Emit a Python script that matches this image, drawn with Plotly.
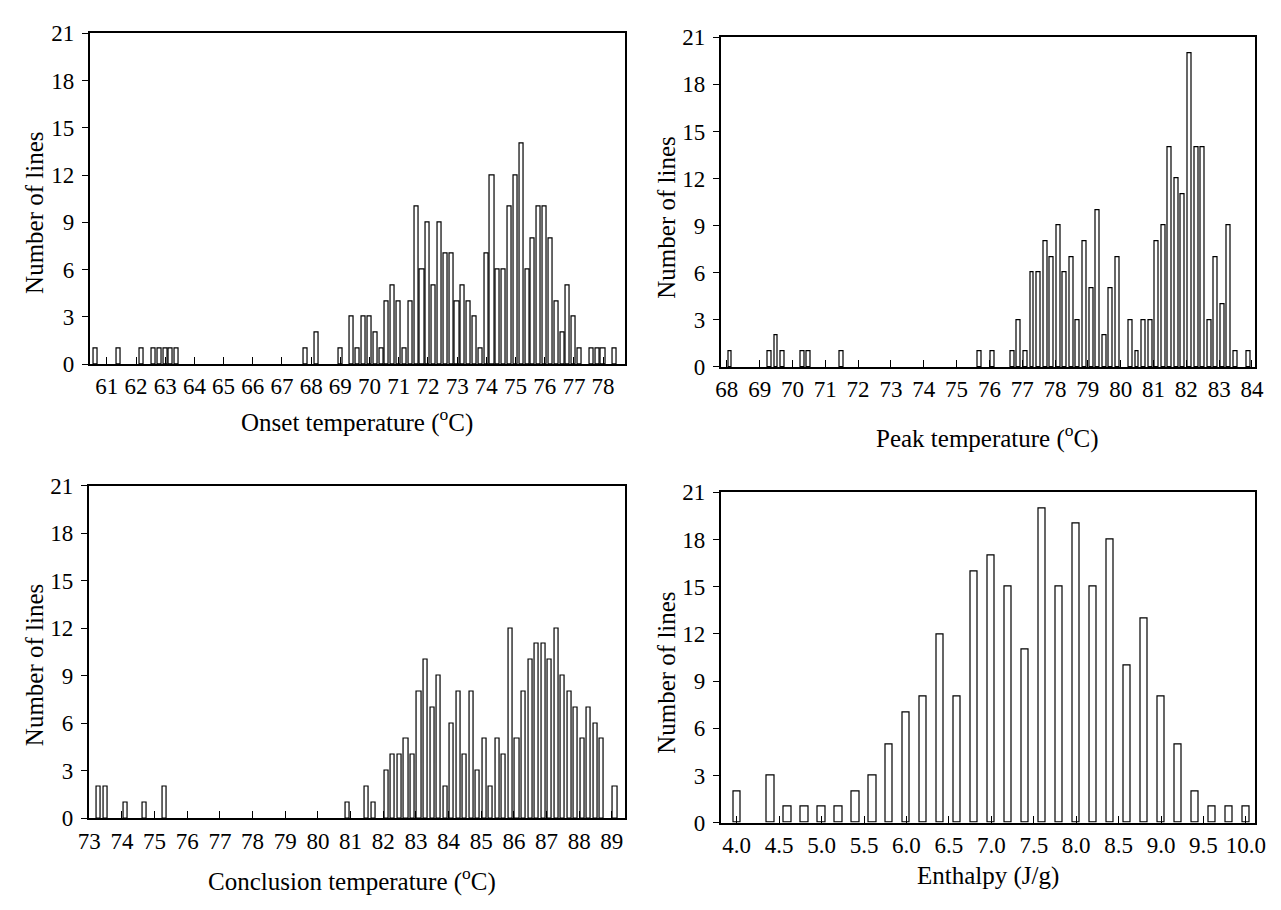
import plotly.graph_objects as go

# ---------------- data ----------------
onset_x = [60.6, 61.4, 62.2, 62.6, 62.8, 63.0, 63.2, 63.4, 67.8, 68.2, 69.0,
           69.4, 69.6, 69.8, 70.0, 70.2, 70.4, 70.6, 70.8, 71.0, 71.2, 71.4,
           71.6, 71.8, 72.0, 72.2, 72.4, 72.6, 72.8, 73.0, 73.2, 73.4, 73.6,
           73.8, 74.0, 74.2, 74.4, 74.6, 74.8, 75.0, 75.2, 75.4, 75.6, 75.8,
           76.0, 76.2, 76.4, 76.6, 76.8, 77.0, 77.2, 77.6, 77.8, 78.0, 78.4]
onset_n = [1, 1, 1, 1, 1, 1, 1, 1, 1, 2, 1,
           3, 1, 3, 3, 2, 1, 4, 5, 4, 1, 4,
           10, 6, 9, 5, 9, 7, 7, 4, 5, 4, 3,
           1, 7, 12, 6, 6, 10, 12, 14, 6, 8, 10,
           10, 8, 4, 2, 5, 3, 1, 1, 1, 1, 1]

peak_x = [68.1, 69.3, 69.5, 69.7, 70.3, 70.5, 71.5, 75.7, 76.1, 76.7,
          76.9, 77.1, 77.3, 77.5, 77.7, 77.9, 78.1, 78.3, 78.5, 78.7,
          78.9, 79.1, 79.3, 79.5, 79.7, 79.9, 80.3, 80.5, 80.7, 80.9,
          81.1, 81.3, 81.5, 81.7, 81.9, 82.1, 82.3, 82.5, 82.7, 82.9,
          83.1, 83.3, 83.5, 83.9]
peak_n = [1, 1, 2, 1, 1, 1, 1, 1, 1, 1,
          3, 1, 6, 6, 8, 7, 9, 6, 7, 3,
          8, 5, 10, 2, 5, 7, 3, 1, 3, 3,
          8, 9, 14, 12, 11, 20, 14, 14, 3, 7,
          4, 9, 1, 1]

conc_x = [73.3, 73.5, 74.1, 74.7, 75.3, 80.9, 81.5, 81.7,
          82.1, 82.3, 82.5, 82.7, 82.9, 83.1, 83.3, 83.5, 83.7, 83.9,
          84.1, 84.3, 84.5, 84.7, 84.9, 85.1, 85.3, 85.5, 85.7, 85.9,
          86.1, 86.3, 86.5, 86.7, 86.9, 87.1, 87.3, 87.5, 87.7, 87.9,
          88.1, 88.3, 88.5, 88.7, 89.1]
conc_n = [2, 2, 1, 1, 2, 1, 2, 1,
          3, 4, 4, 5, 4, 8, 10, 7, 9, 2,
          6, 8, 4, 8, 3, 5, 2, 5, 4, 12,
          5, 8, 10, 11, 11, 10, 12, 9, 8, 7,
          5, 7, 6, 5, 2]

enth_x = [4.0, 4.4, 4.6, 4.8, 5.0, 5.2, 5.4, 5.6, 5.8, 6.0,
          6.2, 6.4, 6.6, 6.8, 7.0, 7.2, 7.4, 7.6, 7.8, 8.0,
          8.2, 8.4, 8.6, 8.8, 9.0, 9.2, 9.4, 9.6, 9.8, 10.0]
enth_n = [2, 3, 1, 1, 1, 1, 2, 3, 5, 7,
          8, 12, 8, 16, 17, 15, 11, 20, 15, 19,
          15, 18, 10, 13, 8, 5, 2, 1, 1, 1]

onset_ticks = list(range(61, 79))
peak_ticks = list(range(68, 85))
conc_ticks = list(range(73, 90))
enth_ticks = [4.0, 4.5, 5.0, 5.5, 6.0, 6.5, 7.0, 7.5, 8.0, 8.5, 9.0, 9.5, 10.0]
y_ticks = [0, 3, 6, 9, 12, 15, 18, 21]

x_titles = ["Onset temperature (<sup>o</sup>C)", "Peak temperature (<sup>o</sup>C)",
            "Conclusion temperature (<sup>o</sup>C)", "Enthalpy (J/g)"]
y_title = "Number of lines"

# ---------------- layout helpers ----------------
W, H = 1281, 910
FONT = "Liberation Serif"
TICK_SIZE = 23
TITLE_SIZE = 25


def fx(px):
    return px / W


def fy(py):
    return 1 - py / H


panels = [
    dict(x=onset_x, y=onset_n, w=0.14, rng=[60.41, 78.76], tv=onset_ticks,
         tt=[str(t) for t in onset_ticks], box=(80, 625, 22, 362)),
    dict(x=peak_x, y=peak_n, w=0.12, rng=[67.81, 84.10], tv=peak_ticks,
         tt=[str(t) for t in peak_ticks], box=(722, 1266, 26, 365)),
    dict(x=conc_x, y=conc_n, w=0.125, rng=[72.98, 89.41], tv=conc_ticks,
         tt=[str(t) for t in conc_ticks], box=(79, 625, 487, 829)),
    dict(x=enth_x, y=enth_n, w=0.085, rng=[3.81, 10.11], tv=enth_ticks,
         tt=["%.1f" % t for t in enth_ticks], box=(722, 1266, 494, 833.5)),
]

fig = go.Figure()
layout = dict(
    width=W, height=H, margin=dict(l=0, r=0, t=0, b=0),
    paper_bgcolor="white", plot_bgcolor="white", showlegend=False,
    font=dict(family=FONT, color="black", size=TICK_SIZE),
    bargap=0,
)

for i, p in enumerate(panels, start=1):
    sfx = "" if i == 1 else str(i)
    fig.add_trace(go.Bar(
        x=p["x"], y=p["y"], width=p["w"],
        marker=dict(color="white", line=dict(color="black", width=1.2)),
        xaxis="x" + sfx, yaxis="y" + sfx, hoverinfo="x+y",
    ))
    l, r, t, b = p["box"]
    layout["xaxis" + sfx] = dict(
        domain=[fx(l), fx(r)], range=p["rng"], anchor="y" + sfx,
        tickmode="array", tickvals=p["tv"], ticktext=p["tt"],
        ticks="inside", ticklen=7, tickwidth=1, tickcolor="black",
        showline=True, linecolor="black", linewidth=1.5, mirror=True,
        showgrid=False, zeroline=False, ticklabelstandoff=1,
        tickfont=dict(family=FONT, size=TICK_SIZE, color="black"),
    )
    layout["yaxis" + sfx] = dict(
        domain=[fy(b), fy(t)], range=[0, 21], anchor="x" + sfx,
        tickmode="array", tickvals=y_ticks,
        ticks="outside", ticklen=6, tickwidth=1, tickcolor="black",
        showline=True, linecolor="black", linewidth=1.5, mirror=True,
        showgrid=False, zeroline=False, ticklabelstandoff=3,
        tickfont=dict(family=FONT, size=TICK_SIZE, color="black"),
    )

fig.update_layout(**layout)

# axis titles as annotations for exact placement
xt_pos = [(352, 420), (994, 436), (347, 892), (994, 888)]
yt_pos = [(24, 207), (667, 212), (24, 672), (667, 680)]
annotations = []
for txt, (ax, ay) in zip(x_titles, xt_pos):
    annotations.append(dict(text=txt, x=fx(ax), y=fy(ay), xref="paper", yref="paper",
                            xanchor="center", yanchor="middle", showarrow=False,
                            font=dict(family=FONT, size=TITLE_SIZE, color="black")))
for (ax, ay) in yt_pos:
    annotations.append(dict(text=y_title, x=fx(ax), y=fy(ay), xref="paper", yref="paper",
                            xanchor="center", yanchor="middle", showarrow=False,
                            textangle=-90,
                            font=dict(family=FONT, size=TITLE_SIZE, color="black")))
fig.update_layout(annotations=annotations)

fig.write_html("out.html")
